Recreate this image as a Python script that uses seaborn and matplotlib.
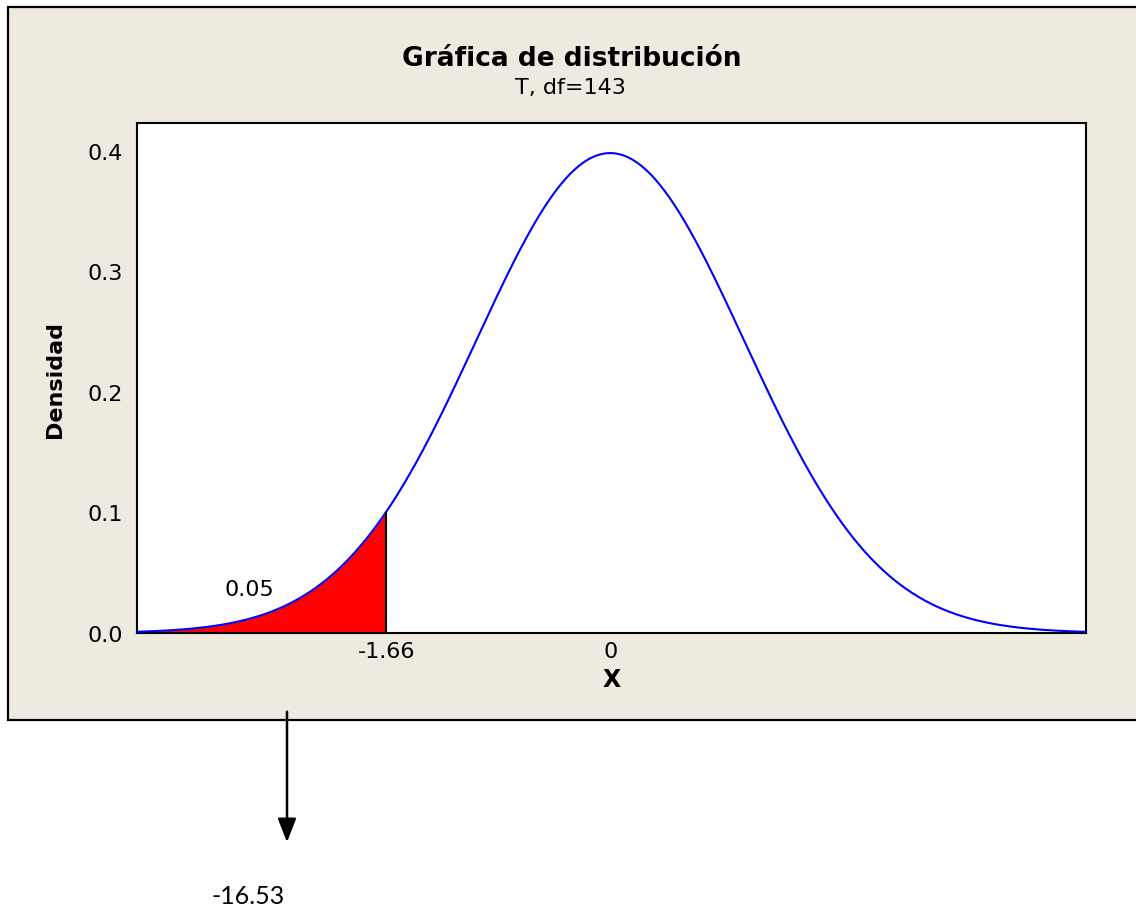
import math
import numpy as np
import pandas as pd
import matplotlib
matplotlib.use("Agg")
import matplotlib.pyplot as plt
from matplotlib.patches import Rectangle, FancyArrowPatch
import seaborn as sns

# ---- chart data ----
title = "Gráfica de distribución"
subtitle = "T, df=143"
df_t = 143
critical_value = -1.66
tail_area = 0.05
tail_label = "0.05"
arrow_label = "-16.53"
y_ticks = [0.0, 0.1, 0.2, 0.3, 0.4]
x_ticks = [-1.66, 0]
x_tick_labels = ["-1.66", "0"]
x_range = [-3.51, 3.53]


def t_pdf(x, nu):
    c = math.exp(math.lgamma((nu + 1) / 2) - math.lgamma(nu / 2)) / math.sqrt(nu * math.pi)
    return c * (1 + x ** 2 / nu) ** (-(nu + 1) / 2)


xs = np.linspace(x_range[0], x_range[1], 600)
curve = pd.DataFrame({"x": xs, "density": [t_pdf(v, df_t) for v in xs]})

sns.set_theme(style="white")
plt.rcParams["font.family"] = ["DejaVu Sans"]
plt.rcParams["text.color"] = "black"
plt.rcParams["axes.labelcolor"] = "black"

W, H = 1136, 912
fig = plt.figure(figsize=(W / 100, H / 100), dpi=100)
fig.patch.set_facecolor("white")

beige = "#EEEAE0"
panel = Rectangle((8 / W, 1 - 721 / H), (1150 - 8) / W, (721 - 8) / H,
                  transform=fig.transFigure, facecolor=beige, edgecolor="black",
                  linewidth=1.6, zorder=-5)
fig.patches.append(panel)

ax = fig.add_axes([137 / W, 1 - 634 / H, (1086 - 137) / W, (634 - 124) / H])
ax.set_zorder(1)
ax.set_facecolor("white")

sns.lineplot(data=curve, x="x", y="density", ax=ax, color="#0000FF", linewidth=1.5, zorder=3)

tail = curve[curve["x"] <= critical_value]
ax.fill_between(tail["x"], 0, tail["density"], color="#FF0000", linewidth=0, zorder=2)
ax.plot([critical_value, critical_value], [0, t_pdf(critical_value, df_t)], color="black",
        linewidth=1.5, zorder=3)

ax.set_xlim(x_range)
ax.set_ylim(0, 0.4232)
ax.set_yticks(y_ticks)
ax.set_yticklabels([f"{v:.1f}" for v in y_ticks])
ax.set_xticks(x_ticks)
ax.set_xticklabels(x_tick_labels)
ax.tick_params(axis="both", direction="out", length=7, width=1.2, color="black",
               labelsize=16, labelcolor="black", pad=3)
ax.tick_params(axis="x", length=0, pad=6)
for s in ax.spines.values():
    s.set_color("black")
    s.set_linewidth(1.5)
    s.set_visible(True)

ax.set_xlabel("X", fontsize=17, fontweight="bold", labelpad=4)
ax.set_ylabel("Densidad", fontsize=16, fontweight="bold", labelpad=16)

ax.text(-2.68, 0.0365, tail_label, fontsize=16, ha="center", va="center", color="black")

fig.text(572 / W, 1 - 59 / H, title, fontsize=19, fontweight="bold", ha="center", va="center")
fig.text(570 / W, 1 - 88 / H, subtitle, fontsize=16, ha="center", va="center")

fig.patches.append(FancyArrowPatch(
    (287 / W, 1 - 710 / H), (287 / W, 1 - 846 / H), transform=fig.transFigure,
    arrowstyle="-|>,head_length=0.9,head_width=0.35", mutation_scale=16,
    color="black", linewidth=1.8, zorder=5))

fig.text(248 / W, 1 - 897 / H, arrow_label, fontsize=18, ha="center", va="center",
         family=["Lato", "DejaVu Sans"])

fig.savefig("out.png", dpi=100)
